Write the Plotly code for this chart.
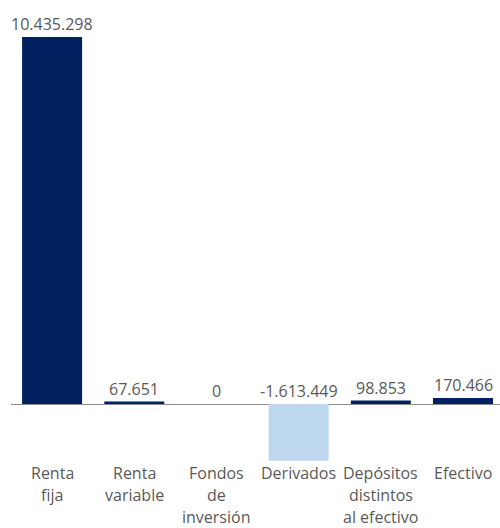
import plotly.graph_objects as go

categories = [["Renta", "fija"], ["Renta", "variable"], ["Fondos", "de", "inversión"], ["Derivados"],
              ["Depósitos", "distintos", "al efectivo"], ["Efectivo"]]
values = [10435298, 67651, 0, -1613449, 98853, 170466]
labels = ["10.435.298", "67.651", "0", "-1.613.449", "98.853", "170.466"]

navy = "#002060"
light = "#BDD7EE"
gray = "#595959"
colors = [light if v < 0 else navy for v in values]
xs = list(range(len(categories)))

fig = go.Figure(go.Bar(x=xs, y=values, marker_color=colors, width=0.73,
                       marker_line_width=0, hoverinfo="skip"))

for x, v, t in zip(xs, values, labels):
    fig.add_annotation(x=x, y=max(v, 0), text=t, showarrow=False, yanchor="bottom",
                       yshift=0, font=dict(size=16, color=gray, family="Open Sans"))

for x, lines in zip(xs, categories):
    for i, line in enumerate(lines):
        fig.add_annotation(x=x, xref="x", y=0, yref="paper", text=line, showarrow=False,
                           yanchor="middle", yshift=-(11 + 22 * i), borderpad=0,
                           font=dict(size=16, color=gray, family="Open Sans"))

fig.update_layout(
    width=500, height=528,
    margin=dict(l=11, r=0, t=30, b=66),
    plot_bgcolor="white", paper_bgcolor="white",
    showlegend=False,
    font=dict(family="Open Sans", size=16, color=gray),
    xaxis=dict(range=[-0.5, 5.45], showticklabels=False,
               showgrid=False, zeroline=False, showline=False, ticks=""),
    yaxis=dict(range=[-1649000, 10634000], showgrid=False, showticklabels=False,
               zeroline=True, zerolinecolor="#8C8C8C", zerolinewidth=1, showline=False),
)

fig.write_html("out.html", config={"displayModeBar": False},
               post_script="document.body.style.margin='0';document.body.style.overflow='hidden';")
